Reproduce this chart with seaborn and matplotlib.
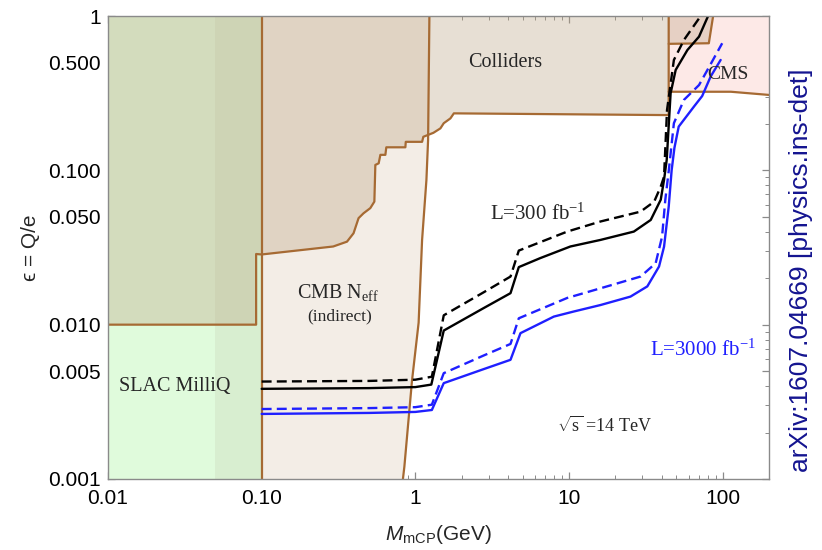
import matplotlib
matplotlib.use("Agg")
import matplotlib.pyplot as plt
import matplotlib.ticker as mticker
import seaborn as sns
import numpy as np

# ---- projected reach, L = 300 fb^-1 (mass in GeV, epsilon) ----
m_300_solid = [0.1, 0.5, 1.0, 1.27, 1.53, 2.78, 4.16, 4.71, 6.5, 10.2, 16.0, 26.4, 34.0,
               39.5, 41.5, 43.2, 45.8, 49.4, 58.9, 70.1, 80.3]
eps_300_solid = [0.00384, 0.00388, 0.00394, 0.00409, 0.00916, 0.0128, 0.0160, 0.0236, 0.0270,
                 0.0321, 0.0354, 0.0401, 0.0477, 0.0645, 0.0867, 0.117, 0.316, 0.447, 0.602,
                 0.735, 1.0]
m_300_dash = [0.1, 0.5, 1.0, 1.28, 1.53, 2.78, 4.16, 4.71, 9.73, 16.0, 29.2, 35.8, 39.5, 41.5,
              43.4, 48.1, 55.95, 71.9]
eps_300_dash = [0.00428, 0.00432, 0.00440, 0.0046, 0.0115, 0.0162, 0.0205, 0.0302, 0.0401,
                0.0466, 0.054, 0.0627, 0.0785, 0.091, 0.246, 0.519, 0.70, 1.0]

# ---- projected reach, L = 3000 fb^-1 ----
m_3000_solid = [0.1, 0.5, 1.0, 1.28, 1.53, 2.78, 4.16, 4.83, 7.96, 10.7, 16.0, 25.1, 32.3,
                38.5, 41.5, 44.5, 46.5, 48.5, 51.7, 65.0, 73.5, 83.4, 96.9]
eps_3000_solid = [0.00264, 0.00268, 0.00272, 0.0028, 0.00418, 0.00515, 0.00592, 0.00881,
                  0.01128, 0.01216, 0.0134, 0.0152, 0.0177, 0.0238, 0.032, 0.058, 0.10, 0.14,
                  0.192, 0.259, 0.303, 0.405, 0.519]
m_3000_dash = [0.1, 0.5, 1.0, 1.28, 1.53, 2.78, 4.16, 4.71, 9.73, 16.0, 29.2, 36.6, 40.3, 42.3,
               44.6, 48.1, 55.9, 70.1, 79.5, 99.2]
eps_3000_dash = [0.00284, 0.00288, 0.00292, 0.00303, 0.00485, 0.00631, 0.0075, 0.0110, 0.0149,
                 0.0172, 0.0205, 0.025, 0.0372, 0.0645, 0.1006, 0.202, 0.286, 0.357, 0.447, 0.666]

# ---- excluded regions (polygon vertices) ----
slac_m = [0.01, 0.1, 0.1, 0.01]
slac_eps = [0.001, 0.001, 1, 1]
slac_band_m = [0.05, 0.1, 0.1, 0.05]
cmb_m = [0.1, 0.1, 1.234, 1.21, 1.18, 1.106, 1.05, 0.95, 0.848, 0.83]
cmb_eps = [0.001, 1, 1, 0.157, 0.0865, 0.0354, 0.0103, 0.0043, 0.0012, 0.001]
coll_m = [0.01, 0.01, 0.092, 0.092, 0.1, 0.292, 0.359, 0.396, 0.427, 0.460, 0.509, 0.541,
          0.549, 0.577, 0.592, 0.638, 0.647, 0.861, 0.866, 1.106, 1.127, 1.31, 1.455, 1.53,
          1.69, 1.78, 43.6, 44.5, 44.5]
coll_eps = [1, 0.01, 0.01, 0.0287, 0.0285, 0.0321, 0.0345, 0.0391, 0.049, 0.0527, 0.0569,
            0.0627, 0.1084, 0.111, 0.126, 0.126, 0.141, 0.141, 0.153, 0.153, 0.165, 0.175,
            0.187, 0.202, 0.217, 0.234, 0.228, 0.228, 1]
cms_m = [44.5, 44.5, 113, 200, 200]
cms_eps = [1, 0.323, 0.323, 0.308, 1]
top_m = [44.5, 44.5, 81.2, 86.6]
top_eps = [1, 0.66, 0.666, 1]

x_ticks = [0.01, 0.1, 1, 10, 100]
x_tick_labels = ["0.01", "0.10", "1", "10", "100"]
y_ticks = [0.001, 0.005, 0.01, 0.05, 0.1, 0.5, 1]
y_tick_labels = ["0.001", "0.005", "0.010", "0.050", "0.100", "0.500", "1"]

sns.set_style("ticks")
plt.rcParams["font.family"] = ["Liberation Sans", "DejaVu Sans"]
plt.rcParams["mathtext.fontset"] = "custom"
plt.rcParams["mathtext.rm"] = "Liberation Serif"
plt.rcParams["mathtext.it"] = "Liberation Sans:italic"
plt.rcParams["mathtext.sf"] = "Liberation Sans"

brown = "#a66a33"
coll_color = "#bda484"
serif = ["Liberation Serif", "DejaVu Serif"]

fig = plt.figure(figsize=(8.22, 5.5), dpi=100)
ax = fig.add_axes([108 / 822, 1 - 479 / 550, 661 / 822, 463 / 550])
ax.set_xscale("log")
ax.set_yscale("log")

# regions
ax.fill(slac_m, slac_eps, color="#e0fbdc", lw=0, zorder=1)
ax.fill(slac_band_m, slac_eps, color="#d8eed0", lw=0, zorder=1)
ax.fill(cmb_m, cmb_eps, color="#f3ede6", lw=0, zorder=1)
ax.fill(coll_m, coll_eps, color=coll_color, alpha=0.35, lw=0, zorder=2)
ax.fill(cms_m, cms_eps, color="#fde9e7", lw=0, zorder=1)
ax.fill(top_m, top_eps, color=coll_color, alpha=0.35, lw=0, zorder=2)

# region boundaries
ax.plot([0.1, 0.1], [0.001, 1], color=brown, lw=1.6, zorder=3)
ax.plot(cmb_m[2:], cmb_eps[2:], color=brown, lw=1.6, zorder=3)
ax.plot(coll_m[1:], coll_eps[1:], color=brown, lw=1.6, zorder=3)
ax.plot(cms_m[1:4], cms_eps[1:4], color=brown, lw=1.6, zorder=3)
ax.plot(top_m[1:], top_eps[1:], color=brown, lw=1.6, zorder=3)

# reach curves
dash = (0, (4.2, 2.2))
sns.lineplot(x=m_300_solid, y=eps_300_solid, color="black", lw=1.7, sort=False,
             estimator=None, ax=ax, zorder=4)
sns.lineplot(x=m_300_dash, y=eps_300_dash, color="black", lw=1.7, linestyle=dash,
             sort=False, estimator=None, ax=ax, zorder=4)
sns.lineplot(x=m_3000_solid, y=eps_3000_solid, color="#1f1fff", lw=1.7, sort=False,
             estimator=None, ax=ax, zorder=4)
sns.lineplot(x=m_3000_dash, y=eps_3000_dash, color="#1f1fff", lw=1.7, linestyle=dash,
             sort=False, estimator=None, ax=ax, zorder=4)

ax.set_xlim(0.01, 200)
ax.set_ylim(0.001, 1)

ax.xaxis.set_major_locator(mticker.FixedLocator(x_ticks))
ax.xaxis.set_major_formatter(mticker.FixedFormatter(x_tick_labels))
ax.xaxis.set_minor_locator(mticker.LogLocator(base=10, subs=np.arange(2, 10)))
ax.xaxis.set_minor_formatter(mticker.NullFormatter())
ax.yaxis.set_major_locator(mticker.FixedLocator(y_ticks))
ax.yaxis.set_major_formatter(mticker.FixedFormatter(y_tick_labels))
ax.yaxis.set_minor_locator(mticker.LogLocator(base=10, subs=[2, 3, 4, 6, 7, 8, 9]))
ax.yaxis.set_minor_formatter(mticker.NullFormatter())
ax.tick_params(which="both", direction="in", top=True, right=True, color="#8a8a8a",
               labelsize=15, labelcolor="black")
ax.tick_params(which="major", length=5, width=0.9)
ax.tick_params(which="minor", length=3, width=0.7)
ax.tick_params(axis="y", pad=5)
ax.tick_params(axis="x", pad=7)
for sp in ax.spines.values():
    sp.set_color("#8a8a8a")
    sp.set_linewidth(1.0)
    sp.set_zorder(5)

ax.set_xlabel(r"$M_{\mathsf{mCP}}$(GeV)", fontsize=15, labelpad=11)
ax.set_ylabel("\u03f5 = Q/e", fontsize=15, labelpad=6)

# annotations
ax.text(3.86, 0.50, "Colliders", family=serif, fontsize=14.5, ha="center", va="center", zorder=6)
ax.text(108, 0.415, "CMS", family=serif, fontsize=14, ha="center", va="center", zorder=6)
ax.text(0.315, 0.016, r"CMB N$_{\mathrm{eff}}$", family=serif, fontsize=14.5,
        ha="center", va="center", zorder=6)
ax.text(0.321, 0.0113, "(indirect)", family=serif, fontsize=12.5, ha="center", va="center",
        zorder=6)
ax.text(0.0272, 0.00397, "SLAC MilliQ", family=serif, fontsize=14.5, ha="center",
        va="center", zorder=6)
ax.text(6.24, 0.0522, r"L=300 fb$^{-1}$", family=serif, fontsize=15, ha="center",
        va="center", zorder=6)
ax.text(73.8, 0.00687, r"L=3000 fb$^{-1}$", family=serif, fontsize=15, color="#1f1fff",
        ha="center", va="center", zorder=6)
ax.text(16.9, 0.00221, r"$\sqrt{\mathrm{s}}$ =14 TeV", family=serif, fontsize=13,
        ha="center", va="center", zorder=6)

fig.text(801 / 822, 1 - 270 / 550, "arXiv:1607.04669 [physics.ins-det]", rotation=90,
         fontsize=19, color="#141490", ha="center", va="center")

fig.savefig("out.png", dpi=100)
